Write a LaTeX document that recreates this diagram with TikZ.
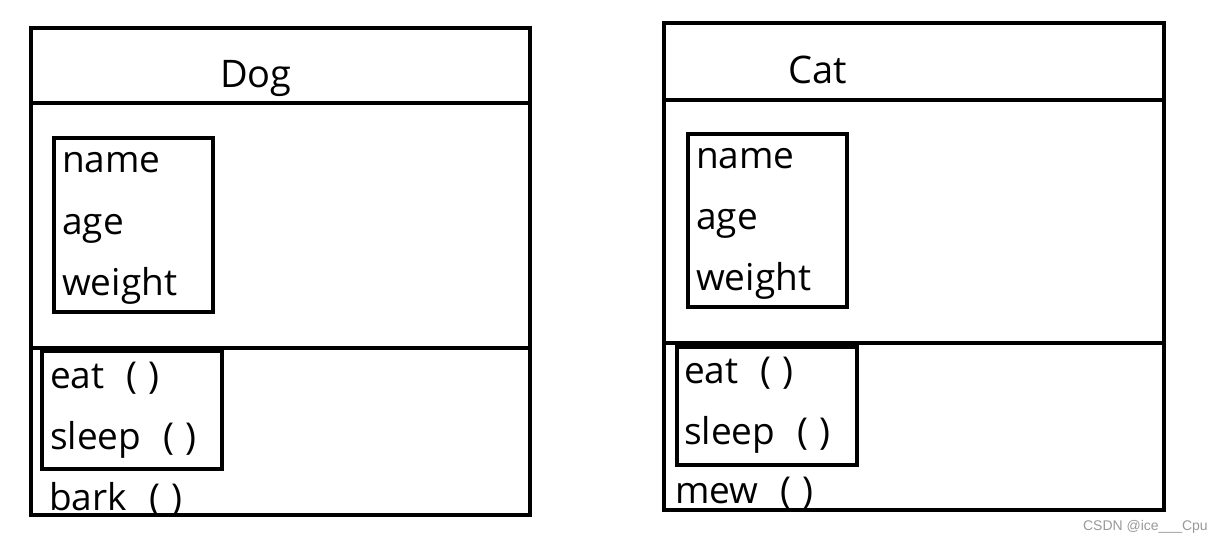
\documentclass[tikz,border=0pt]{standalone}
\usepackage{fontspec}
\setmainfont{Open Sans}
\newfontfamily\wmfont{Liberation Sans}
\begin{document}
\begin{tikzpicture}[x=1pt,y=-1pt,
  frame/.style={draw=black,line width=4pt},
  txt/.style={anchor=base west,inner sep=0pt,font=\fontsize{37}{40}\selectfont},
  ttl/.style={anchor=base,inner sep=0pt,font=\fontsize{38}{42}\selectfont},
  wm/.style={anchor=base east,inner sep=0pt,text=black!40,font=\fontsize{14}{16}\selectfont\wmfont}]
\useasboundingbox (0,0) rectangle (1223,543);
% Dog
\draw[frame] (31,28) rectangle (530,515);
\draw[frame] (31,103) -- (530,103);
\draw[frame] (31,348) -- (530,348);
\draw[frame] (54,138) rectangle (213,312);
\draw[frame] (42,351) rectangle (222,469);
\node[ttl] (dog) at (256,88) {Dog};
\node[txt] (dname) at (62,172) {name};
\node[txt] (dage) at (62,234) {age};
\node[txt] (dweight) at (62,295) {weight};
\node[txt] (deat) at (50,388) {eat\hspace{0.6em}(\hspace{0.3em})};
\node[txt] (dsleep) at (50,449) {sleep\hspace{0.6em}(\hspace{0.3em})};
\node[txt] (dbark) at (49,510) {bark\hspace{0.6em}(\hspace{0.3em})};
% Cat
\draw[frame] (664,23) rectangle (1164,510);
\draw[frame] (664,100) -- (1164,100);
\draw[frame] (664,343) -- (1164,343);
\draw[frame] (688,134) rectangle (847,307);
\draw[frame] (677,347) rectangle (857,465);
\node[ttl] (cat) at (818,83) {Cat};
\node[txt] (cname) at (696,168) {name};
\node[txt] (cage) at (696,229) {age};
\node[txt] (cweight) at (696,290) {weight};
\node[txt] (ceat) at (684,383) {eat\hspace{0.6em}(\hspace{0.3em})};
\node[txt] (csleep) at (684,444) {sleep\hspace{0.6em}(\hspace{0.3em})};
\node[txt] (cmew) at (675,503) {mew\hspace{0.6em}(\hspace{0.3em})};
\node[wm] (mark) at (1208,530) {CSDN @ice\_\_\_Cpu};
\end{tikzpicture}
\end{document}
